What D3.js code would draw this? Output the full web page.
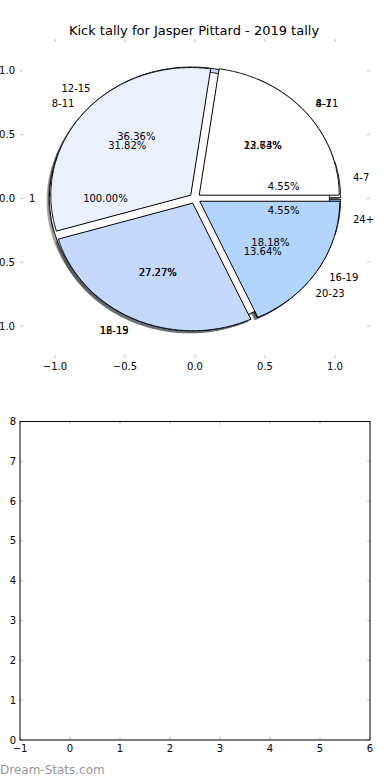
<!DOCTYPE html>
<html>
<head>
<meta charset="utf-8">
<script src="https://cdn.jsdelivr.net/npm/d3@7"></script>
<style>
  html, body { margin: 0; padding: 0; background: #fff; }
  svg { display: block; }
  text { font-family: "DejaVu Sans", sans-serif; }
</style>
</head>
<body>
<div id="chart"></div>
<script>
// ---- data ----
const titleText = "Kick tally for Jasper Pittard - 2019 tally";
const labelsP = ["4-7", "8-11", "12-15", "16-19", "20-23", "24+"];
const valuesP = [1, 3, 8, 6, 3, 1];
const labelsR = ["1"];
const valuesR = [1];
const labelsQ = ["4-7", "8-11", "12-15", "16-19"];
const valuesQ = [5, 7, 6, 4];
const pieColors = ["#ffffff", "#eaf1fd", "#c6d9fd", "#b3d4fd", "#9ec5fb", "#8ab6f7"];
const pieTicks = [-1, -0.5, 0, 0.5, 1];
const lowerXTicks = [-1, 0, 1, 2, 3, 4, 5, 6];
const lowerYTicks = [0, 1, 2, 3, 4, 5, 6, 7, 8];
const watermark = "Dream-Stats.com";

const W = 390, H = 780;
const explode = 0.04;
const svg = d3.select("#chart").append("svg").attr("width", W).attr("height", H);

// ---- pie axes ----
const xP = d3.scaleLinear().domain([-1.25, 1.25]).range([20, 370]);
const yP = d3.scaleLinear().domain([-1.25, 1.25]).range([358, 39]);

svg.append("text").attr("x", 194).attr("y", 34.5).attr("text-anchor", "middle")
  .attr("font-size", 13).attr("fill", "#000").text(titleText);

const tickColor = "#bdbdbd";
const gP = svg.append("g");
pieTicks.forEach(t => {
  gP.append("line").attr("x1", xP(t)).attr("x2", xP(t)).attr("y1", yP(-1.25)).attr("y2", yP(-1.25) - 3).attr("stroke", tickColor);
  gP.append("line").attr("x1", xP(t)).attr("x2", xP(t)).attr("y1", yP(1.25)).attr("y2", yP(1.25) + 3).attr("stroke", tickColor);
  gP.append("line").attr("y1", yP(t)).attr("y2", yP(t)).attr("x1", xP(-1.25)).attr("x2", xP(-1.25) + 3).attr("stroke", tickColor);
  gP.append("line").attr("y1", yP(t)).attr("y2", yP(t)).attr("x1", xP(1.25)).attr("x2", xP(1.25) - 3).attr("stroke", tickColor);
});
const fmt1 = d3.format(".1f");
pieTicks.forEach(t => {
  gP.append("text").attr("x", xP(t)).attr("y", yP(-1.25) + 8).attr("dy", "0.35em")
    .attr("text-anchor", "middle").attr("font-size", 10).text(fmt1(t));
  gP.append("text").attr("x", xP(-1.25) - 5).attr("y", yP(t)).attr("dy", "0.35em")
    .attr("text-anchor", "end").attr("font-size", 10).text(fmt1(t));
});

function wedges(values, labels) {
  const total = d3.sum(values);
  let cum = 0;
  return values.map((v, i) => {
    const t1 = cum / total * 360;
    cum += v;
    const t2 = cum / total * 360;
    const tm = (t1 + t2) / 2 * Math.PI / 180;
    return {
      t1, t2, tm, frac: v / total, label: labels[i], color: pieColors[i % pieColors.length],
      cx: explode * Math.cos(tm), cy: explode * Math.sin(tm)
    };
  });
}
// drawing order: P, then R, then Q on top
const pies = [wedges(valuesP, labelsP), wedges(valuesR, labelsR), wedges(valuesQ, labelsQ)];

function wedgePath(w, dx, dy) {
  const pts = [];
  const full = (w.t2 - w.t1) >= 359.999;
  if (!full) pts.push([w.cx + dx, w.cy + dy]);
  const n = Math.max(2, Math.ceil((w.t2 - w.t1) / 0.5));
  for (let k = 0; k <= n; k++) {
    const a = (w.t1 + (w.t2 - w.t1) * k / n) * Math.PI / 180;
    pts.push([w.cx + dx + Math.cos(a), w.cy + dy + Math.sin(a)]);
  }
  return d3.line().x(p => xP(p[0])).y(p => yP(p[1]))(pts) + "Z";
}

// shadows (drawn below all wedges)
const gShadow = svg.append("g");
pies.forEach(pie => pie.forEach(w => {
  const c = d3.rgb(w.color);
  const sc = d3.rgb(c.r * 0.3, c.g * 0.3, c.b * 0.3);
  gShadow.append("path").attr("d", wedgePath(w, -0.02, -0.02))
    .attr("fill", sc).attr("fill-opacity", 0.5).attr("stroke", "none");
}));
// wedges
const gW = svg.append("g");
pies.forEach(pie => pie.forEach(w => {
  gW.append("path").attr("d", wedgePath(w, 0, 0))
    .attr("fill", w.color).attr("stroke", "#000").attr("stroke-width", 1).attr("stroke-linejoin", "round");
}));
// texts
const gT = svg.append("g");
const fmtPct = d3.format(".2f");
pies.forEach(pie => pie.forEach(w => {
  const lx = w.cx + 1.1 * Math.cos(w.tm), ly = w.cy + 1.1 * Math.sin(w.tm);
  gT.append("text").attr("x", xP(lx)).attr("y", yP(ly)).attr("dy", "0.35em")
    .attr("text-anchor", lx > 0 ? "start" : "end").attr("font-size", 10).text(w.label);
  const px = w.cx + 0.6 * Math.cos(w.tm), py = w.cy + 0.6 * Math.sin(w.tm);
  gT.append("text").attr("x", xP(px)).attr("y", yP(py)).attr("dy", "0.35em")
    .attr("text-anchor", "middle").attr("font-size", 10).text(fmtPct(w.frac * 100) + "%");
}));

// ---- lower empty axes ----
const xB = d3.scaleLinear().domain([-1, 6]).range([20, 370]);
const yB = d3.scaleLinear().domain([0, 8]).range([740, 421.5]);
const gB = svg.append("g");
lowerXTicks.forEach(t => {
  gB.append("line").attr("x1", xB(t)).attr("x2", xB(t)).attr("y1", yB(0)).attr("y2", yB(0) - 3).attr("stroke", tickColor);
  gB.append("line").attr("x1", xB(t)).attr("x2", xB(t)).attr("y1", yB(8)).attr("y2", yB(8) + 3).attr("stroke", tickColor);
  gB.append("text").attr("x", xB(t)).attr("y", yB(0) + 8).attr("dy", "0.35em")
    .attr("text-anchor", "middle").attr("font-size", 10).text(d3.format("d")(t));
});
lowerYTicks.forEach(t => {
  gB.append("line").attr("y1", yB(t)).attr("y2", yB(t)).attr("x1", xB(-1)).attr("x2", xB(-1) + 3).attr("stroke", tickColor);
  gB.append("line").attr("y1", yB(t)).attr("y2", yB(t)).attr("x1", xB(6)).attr("x2", xB(6) - 3).attr("stroke", tickColor);
  gB.append("text").attr("x", xB(-1) - 4).attr("y", yB(t)).attr("dy", "0.35em")
    .attr("text-anchor", "end").attr("font-size", 10).text(d3.format("d")(t));
});
gB.append("rect").attr("x", xB(-1)).attr("y", yB(8)).attr("width", xB(6) - xB(-1)).attr("height", yB(0) - yB(8))
  .attr("fill", "none").attr("stroke", "#000").attr("stroke-width", 1);

svg.append("text").attr("x", 0).attr("y", 774).attr("font-size", 12).attr("fill", "#999")
  .text(watermark);
</script>
</body>
</html>
